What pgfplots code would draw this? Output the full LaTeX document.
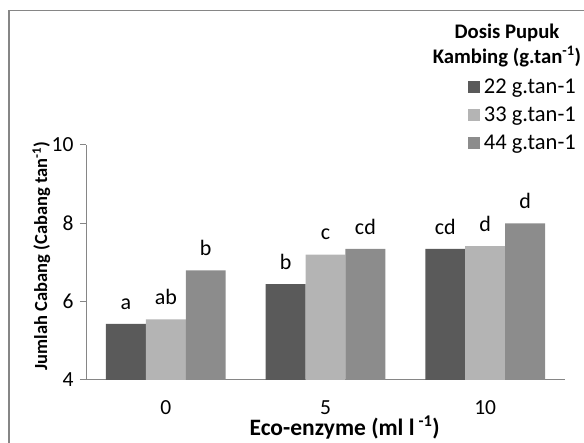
\documentclass[border=0pt]{standalone}
\usepackage{pgfplots}
\pgfplotsset{compat=1.18}
\usepackage{fontspec}
\setmainfont{Carlito}
\definecolor{cA}{HTML}{5A5A5A}
\definecolor{cB}{HTML}{B4B4B4}
\definecolor{cC}{HTML}{8C8C8C}
\definecolor{axg}{HTML}{868686}
\begin{document}
\begin{tikzpicture}[x=1pt,y=1pt]
\path[use as bounding box] (0,0) rectangle (584,443);
\draw[axg, line width=1.2pt] (9,0) -- (9,432.5) -- (584,432.5);
\begin{axis}[
  at={(86pt,63pt)}, anchor=south west,
  scale only axis, width=479pt, height=235pt,
  xmin=-0.5, xmax=2.5, ymin=4, ymax=10,
  axis lines=left, axis line style={axg, line width=1pt, -},
  ybar, bar width=0.25,
  xtick={0,1,2}, xticklabels={0,5,10},
  x tick style={draw=none},
  extra x ticks={-0.5,0.5,1.5,2.5}, extra x tick labels={},
  extra x tick style={major tick length=7pt, tick align=outside, tick style={axg, line width=1pt}},
  ytick={4,6,8,10}, tick align=outside, major tick length=6pt,
  y tick style={axg, line width=1pt},
  /pgf/number format/assume math mode=true,
  tick label style={font=\fontsize{21.5}{24}\selectfont, black},
  xticklabel style={yshift=-11pt},
  yticklabel style={xshift=-3pt},
  xlabel={\textbf{Eco-enzyme (ml l\,\textsuperscript{-1})}},
  xlabel style={font=\fontsize{23.5}{26}\selectfont, at={(axis description cs:0.54,-0.203)}, anchor=center},
  ylabel={\textbf{Jumlah Cabang (Cabang tan\textsuperscript{-1})}},
  ylabel style={font=\fontsize{18.5}{20}\selectfont, at={(axis description cs:-0.093,0.528)}, anchor=center},
  nodes near coords, point meta=explicit symbolic,
  nodes near coords style={font=\fontsize{22}{24}\selectfont, black, anchor=south, yshift=11pt},
  legend style={draw=none, fill=none, at={(axis description cs:0.797,1.29)}, anchor=north west,
    font=\fontsize{22.5}{24}\selectfont, row sep=8pt, inner sep=0pt, nodes={inner xsep=4pt}},
  legend cell align=left,
  legend image code/.code={\fill[#1] (0pt,-6pt) rectangle (12pt,6pt);},
  clip=false,
]
\addplot[fill=cA, draw=none, bar shift=-0.25] coordinates {(0,5.43)[a] (1,6.45)[b] (2,7.35)[cd]};
\addplot[fill=cB, draw=none, bar shift=0] coordinates {(0,5.55)[ab] (1,7.2)[c] (2,7.42)[d]};
\addplot[fill=cC, draw=none, bar shift=0.25] coordinates {(0,6.8)[b] (1,7.35)[cd] (2,8.0)[d]};
\legend{22 g.tan-1, 33 g.tan-1, 44 g.tan-1}
\end{axis}
\node[font=\bfseries\fontsize{20.7}{25}\selectfont, align=center] at (507,397.5) {Dosis Pupuk\\Kambing (g.tan\textsuperscript{-1})};
\end{tikzpicture}
\end{document}
